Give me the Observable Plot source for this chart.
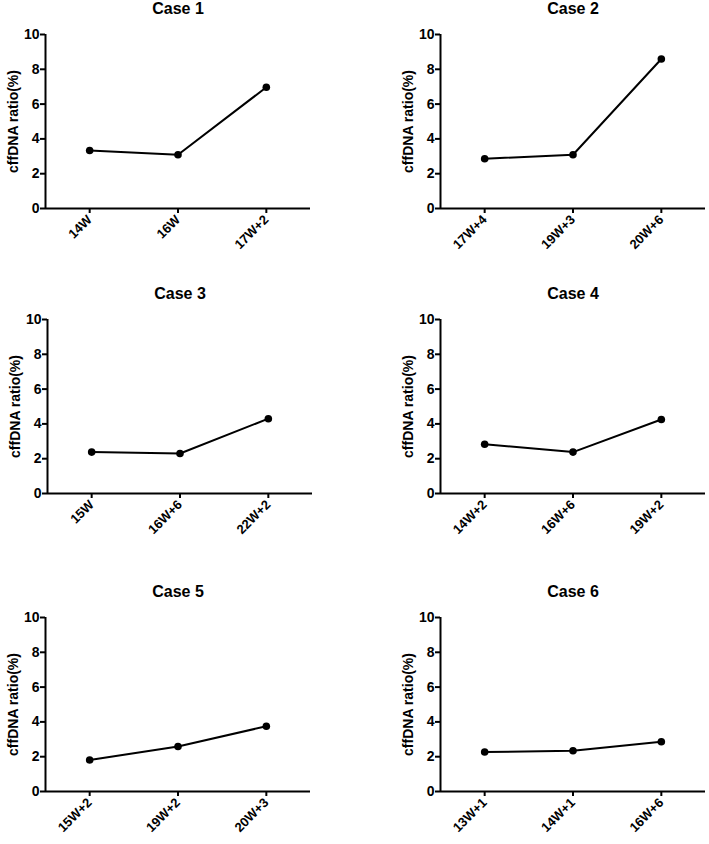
<!DOCTYPE html>
<html>
<head>
<meta charset="utf-8">
<script src="https://cdn.jsdelivr.net/npm/d3@7"></script>
<script src="https://cdn.jsdelivr.net/npm/@observablehq/plot@0.6"></script>
<style>
  html, body { margin: 0; padding: 0; background: #fff; overflow: hidden; }
  #root { position: relative; width: 709px; height: 844px; background: #fff; overflow: hidden; }
  .panel { position: absolute; }
  .panel svg { max-width: none !important; }
</style>
</head>
<body>
<div id="root"></div>
<script>
const caseTitles = ["Case 1", "Case 2", "Case 3", "Case 4", "Case 5", "Case 6"];
const case1Labels = ["14W", "16W", "17W+2"];
const case1Values = [3.33, 3.09, 6.97];
const case2Labels = ["17W+4", "19W+3", "20W+6"];
const case2Values = [2.86, 3.09, 8.59];
const case3Labels = ["15W", "16W+6", "22W+2"];
const case3Values = [2.38, 2.30, 4.30];
const case4Labels = ["14W+2", "16W+6", "19W+2"];
const case4Values = [2.83, 2.38, 4.25];
const case5Labels = ["15W+2", "19W+2", "20W+3"];
const case5Values = [1.81, 2.59, 3.75];
const case6Labels = ["13W+1", "14W+1", "16W+6"];
const case6Values = [2.27, 2.34, 2.86];
const yTicks = [0, 2, 4, 6, 8, 10];
const yLabel = "cffDNA ratio(%)";

const cases = [
  {title: caseTitles[0], labels: case1Labels, values: case1Values, left: 0, top: 0},
  {title: caseTitles[1], labels: case2Labels, values: case2Values, left: 395, top: 0},
  {title: caseTitles[2], labels: case3Labels, values: case3Values, left: 2, top: 285},
  {title: caseTitles[3], labels: case4Labels, values: case4Values, left: 395, top: 285},
  {title: caseTitles[4], labels: case5Labels, values: case5Values, left: 0, top: 583},
  {title: caseTitles[5], labels: case6Labels, values: case6Values, left: 395, top: 583}
];

const root = document.getElementById("root");

for (const c of cases) {
  const data = c.labels.map((label, i) => ({i, label, value: c.values[i]}));
  const idx = data.map(d => d.i);
  const chart = Plot.plot({
    width: 354,
    height: 262,
    marginLeft: 45,
    marginRight: 44,
    marginTop: 34,
    marginBottom: 54,
    style: {fontFamily: "'Liberation Sans', Arial, sans-serif", fontSize: "13px", fontWeight: "bold", color: "#000", background: "#fff", maxWidth: "none", overflow: "visible"},
    x: {type: "linear", domain: [-0.5, c.labels.length - 0.5]},
    y: {domain: [0, 10]},
    marks: [
      Plot.axisY({ticks: yTicks, tickSize: 5, tickPadding: 1, strokeWidth: 2, label: yLabel, labelAnchor: "center", labelOffset: 37, labelArrow: "none", fontSize: 14}),
      Plot.axisX({ticks: idx, tickFormat: i => c.labels[i], tickRotate: -45, tickSize: 5, tickPadding: 4, strokeWidth: 2, label: null, fontSize: 13}),
      Plot.ruleX([{x: -0.5, y1: 0, y2: 10}], {x: "x", y1: "y1", y2: "y2", stroke: "#000", strokeWidth: 2}),
      Plot.ruleY([0], {stroke: "#000", strokeWidth: 2}),
      Plot.line(data, {x: "i", y: "value", stroke: "#000", strokeWidth: 2}),
      Plot.dot(data, {x: "i", y: "value", r: 3.8, fill: "#000", stroke: "none"}),
      Plot.text([c.title], {frameAnchor: "top", dy: -32, fontSize: 16, fontWeight: "bold", fill: "#000"})
    ]
  });
  const div = document.createElement("div");
  div.className = "panel";
  div.style.left = c.left + "px";
  div.style.top = c.top + "px";
  div.appendChild(chart);
  root.appendChild(div);
}
</script>
</body>
</html>
